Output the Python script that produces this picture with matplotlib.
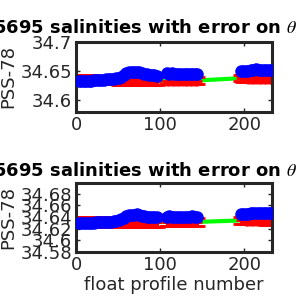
import matplotlib
matplotlib.use("Agg")
import matplotlib.pyplot as plt
import numpy as np

plt.rcParams['font.family'] = ['DejaVu Sans']
plt.rcParams['mathtext.fontset'] = 'stix'

title_text = "5695 salinities with error on $\\theta$"
xlabel_text = "float profile number"
ylabel_text = "PSS-78"

profiles = [3, 6, 9, 12, 15, 18, 21, 24, 27, 30, 33, 36, 39, 42, 45, 48,
            51, 54, 57, 60, 63, 66, 69, 72, 75, 78, 81, 84, 87, 90, 93, 96,
            108, 111, 114, 117, 120, 123, 126, 129, 132, 135, 138, 141, 144,
            196, 199, 202, 205, 208, 211, 214, 217, 220, 223, 226, 229, 232]

# top panel
top_float = [34.632, 34.632, 34.6325, 34.632, 34.633, 34.633, 34.6335, 34.634,
             34.634, 34.635, 34.635, 34.6355, 34.636, 34.636, 34.6365, 34.637,
             34.638, 34.640, 34.643, 34.646, 34.648, 34.648, 34.649, 34.649,
             34.648, 34.646, 34.645, 34.644, 34.6435, 34.643, 34.6425, 34.642,
             34.646, 34.6455, 34.646, 34.645, 34.645, 34.6445, 34.645, 34.645,
             34.6445, 34.645, 34.6455, 34.645, 34.645,
             34.6495, 34.650, 34.650, 34.6505, 34.651, 34.652, 34.6525, 34.652,
             34.651, 34.651, 34.6515, 34.652, 34.652]
top_mapped = [34.636, 34.636, 34.6358, 34.6356, 34.6355, 34.6353, 34.635, 34.635,
              34.6348, 34.6346, 34.6345, 34.6343, 34.634, 34.634, 34.6338, 34.6336,
              34.6335, 34.6334, 34.6333, 34.6332, 34.6332, 34.6331, 34.633, 34.633,
              34.633, 34.633, 34.633, 34.633, 34.633, 34.633, 34.633, 34.633,
              34.6334, 34.6334, 34.6334, 34.6334, 34.6334, 34.6334, 34.6334, 34.6334,
              34.6334, 34.6334, 34.6334, 34.6334, 34.6334,
              34.6375, 34.6372, 34.637, 34.6368, 34.6366, 34.6365, 34.6364, 34.6362,
              34.636, 34.636, 34.6358, 34.6356, 34.6355]
top_err = [0.007] * 32 + [0.0055] * 13 + [0.0055] * 13

# bottom panel
bot_float = [34.629, 34.629, 34.6292, 34.6295, 34.6298, 34.630, 34.6303, 34.6305,
             34.631, 34.631, 34.6312, 34.6315, 34.632, 34.632, 34.6325, 34.633,
             34.634, 34.636, 34.639, 34.642, 34.6435, 34.644, 34.644, 34.6445,
             34.643, 34.642, 34.641, 34.6405, 34.640, 34.640, 34.6395, 34.640,
             34.6405, 34.641, 34.6405, 34.640, 34.640, 34.6405, 34.640, 34.6405,
             34.640, 34.6405, 34.641, 34.6405, 34.640,
             34.6445, 34.645, 34.645, 34.6455, 34.646, 34.6465, 34.647, 34.6465,
             34.6465, 34.6465, 34.647, 34.647, 34.647]
bot_mapped = [34.6325, 34.6325, 34.6323, 34.6322, 34.632, 34.632, 34.632, 34.6318,
              34.6318, 34.6316, 34.6315, 34.6315, 34.6314, 34.6314, 34.6313, 34.6313,
              34.6312, 34.6312, 34.6312, 34.6312, 34.6312, 34.6312, 34.6312, 34.6312,
              34.6312, 34.6312, 34.6312, 34.6312, 34.6312, 34.6312, 34.6312, 34.6312,
              34.6314, 34.6314, 34.6314, 34.6314, 34.6314, 34.6314, 34.6314, 34.6314,
              34.6314, 34.6314, 34.6314, 34.6314, 34.6314,
              34.634, 34.634, 34.6338, 34.6336, 34.6335, 34.6334, 34.6333, 34.6332,
              34.6332, 34.6331, 34.633, 34.633, 34.633]
bot_err = [0.008] * 32 + [0.0065] * 13 + [0.006] * 13

top_yticks = [34.6, 34.65, 34.7]
top_yticklabels = ["34.6", "34.65", "34.7"]
bot_yticks = [34.58, 34.6, 34.62, 34.64, 34.66, 34.68]
bot_yticklabels = ["34.58", "34.6", "34.62", "34.64", "34.66", "34.68"]
xticks = [0, 100, 200]

frame_col = '#262626'
fs = 13
fig = plt.figure(figsize=(3, 3), dpi=100)

def panel(rect, fl, mp, er, ylim, yt, ytl, xlab):
    ax = fig.add_axes(rect)
    ax.plot(profiles, mp, '-', color='#00ff00', lw=3, zorder=1)
    ax.errorbar(profiles, mp, yerr=er, fmt='+', color='#ff0000', ecolor='#ff0000',
                elinewidth=2, capsize=6, capthick=2, ms=7, mew=2, zorder=2)
    ax.plot(profiles, fl, 'o', color='#0000ff', mfc='#0000ff', mec='#0000ff',
            ms=8, zorder=3)
    ax.set_xlim(0, 233)
    ax.set_ylim(*ylim)
    ax.set_xticks(xticks)
    ax.set_xticklabels([str(t) for t in xticks])
    ax.set_yticks(yt)
    ax.set_yticklabels(ytl)
    ax.tick_params(direction='in', length=3, width=1, top=True, right=True,
                   labelsize=fs, colors=frame_col, pad=3)
    for s in ax.spines.values():
        s.set_linewidth(2.2)
        s.set_color(frame_col)
    ax.set_ylabel(ylabel_text, fontsize=fs, color=frame_col, labelpad=2)
    if xlab:
        ax.set_xlabel(xlabel_text, fontsize=fs, color=frame_col, labelpad=1)
    return ax

ax1 = panel([76/300, 188/300, 196/300, 70/300], top_float, top_mapped, top_err,
            (34.579, 34.70), top_yticks, top_yticklabels, False)
ax2 = panel([76/300, 48/300, 196/300, 69/300], bot_float, bot_mapped, bot_err,
            (34.58, 34.698), bot_yticks, bot_yticklabels, True)

fig.text(298/300, 1 - 33/300, title_text, fontsize=fs, fontweight='bold',
         ha='right', va='baseline', color='black')
fig.text(298/300, 1 - 176/300, title_text, fontsize=fs, fontweight='bold',
         ha='right', va='baseline', color='black')

fig.savefig('out.png', dpi=100)
